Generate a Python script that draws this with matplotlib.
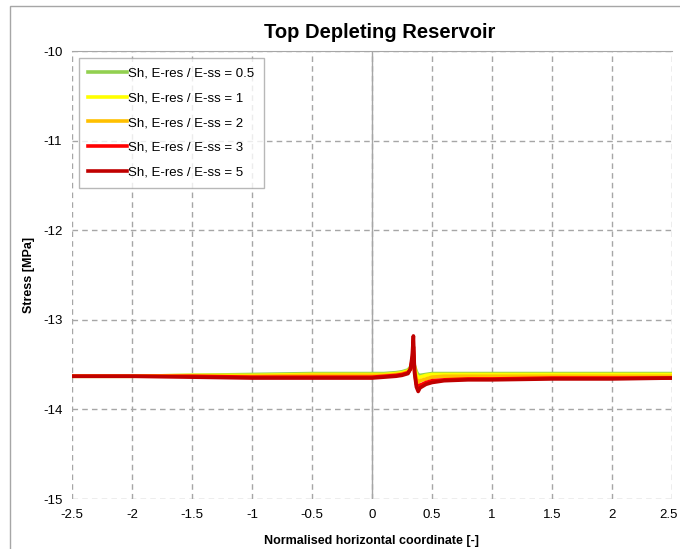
import matplotlib
matplotlib.use("Agg")
import matplotlib.pyplot as plt
from matplotlib.transforms import ScaledTranslation

plt.rcParams["font.family"] = ["Liberation Sans", "DejaVu Sans"]

# --- DATA --- #
x = [-2.5, -2.0, -1.5, -1.0, -0.5, 0.0, 0.1, 0.2, 0.25, 0.3, 0.32, 0.335, 0.345,
     0.355, 0.37, 0.385, 0.4, 0.45, 0.5, 0.6, 0.8, 1.0, 1.5, 2.0, 2.5]

sh_05 = [-13.63, -13.63, -13.62, -13.61, -13.60, -13.60, -13.60, -13.59, -13.58, -13.56,
         -13.53, -13.50, -13.47, -13.52, -13.58, -13.62, -13.62, -13.61, -13.60, -13.60,
         -13.60, -13.60, -13.60, -13.60, -13.60]
sh_1 = [-13.63, -13.63, -13.62, -13.62, -13.61, -13.61, -13.61, -13.60, -13.59, -13.57,
        -13.54, -13.50, -13.45, -13.54, -13.61, -13.65, -13.64, -13.62, -13.61, -13.61,
        -13.61, -13.61, -13.61, -13.61, -13.61]
sh_2 = [-13.63, -13.63, -13.63, -13.63, -13.62, -13.62, -13.62, -13.61, -13.60, -13.58,
        -13.55, -13.48, -13.40, -13.56, -13.66, -13.70, -13.68, -13.66, -13.64, -13.63,
        -13.63, -13.63, -13.63, -13.63, -13.63]
sh_3 = [-13.63, -13.63, -13.63, -13.64, -13.64, -13.64, -13.63, -13.62, -13.61, -13.59,
        -13.55, -13.45, -13.30, -13.58, -13.72, -13.76, -13.73, -13.70, -13.68, -13.67,
        -13.66, -13.66, -13.65, -13.65, -13.65]
sh_5 = [-13.63, -13.63, -13.64, -13.65, -13.65, -13.65, -13.64, -13.63, -13.62, -13.60,
        -13.55, -13.40, -13.18, -13.60, -13.75, -13.80, -13.76, -13.72, -13.70, -13.68,
        -13.67, -13.67, -13.66, -13.66, -13.65]

labels = ["Sh, E-res / E-ss = 0.5", "Sh, E-res / E-ss = 1", "Sh, E-res / E-ss = 2",
          "Sh, E-res / E-ss = 3", "Sh, E-res / E-ss = 5"]
colours = ["#92D050", "#FFFF00", "#FFC000", "#FF0000", "#C00000"]

x_ticks = [-2.5, -2, -1.5, -1, -0.5, 0, 0.5, 1, 1.5, 2, 2.5]
x_tick_labels = ["-2.5", "-2", "-1.5", "-1", "-0.5", "0", "0.5", "1", "1.5", "2", "2.5"]
y_ticks = [-15, -14, -13, -12, -11, -10]

# --- PLOT --- #
fig = plt.figure(figsize=(6.8, 5.49), dpi=100)
ax = fig.add_axes([72 / 680, 1 - 499 / 549, 600 / 680, 448 / 549])

for ys, lab, col in zip([sh_05, sh_1, sh_2, sh_3, sh_5], labels, colours):
    ax.plot(x, ys, color=col, linewidth=2.6, label=lab, solid_joinstyle="round")

ax.set_xlim(-2.5, 2.5)
ax.set_ylim(-15, -10)
ax.set_xticks(x_ticks)
ax.set_xticklabels(x_tick_labels)
ax.set_yticks(y_ticks)
ax.set_yticklabels([str(v) for v in y_ticks])
ax.tick_params(length=0, labelsize=9.5, pad=7)

# the last x label sits on the picture edge, nudge it in a little
last = ax.get_xticklabels()[-1]
last.set_transform(last.get_transform() + ScaledTranslation(-4 / 100, 0, fig.dpi_scale_trans))

ax.grid(True, color="#A6A6A6", linestyle=(0, (4, 3)), linewidth=1.0)
ax.set_axisbelow(True)
for s in ["left", "right", "bottom"]:
    ax.spines[s].set_visible(False)
ax.spines["top"].set_color("#A6A6A6")
ax.axvline(0, color="#A6A6A6", linewidth=1.0, zorder=1)

ax.set_xlabel("Normalised horizontal coordinate [-]", fontsize=9, fontweight="bold", labelpad=10)
ax.set_ylabel("Stress [MPa]", fontsize=9, fontweight="bold", labelpad=6)
fig.text(0.558, 1 - 32 / 549, "Top Depleting Reservoir", ha="center", va="center",
         fontsize=14.5, fontweight="bold")

leg = ax.legend(loc="upper left", bbox_to_anchor=(7 / 600, 1 - 7 / 448), borderaxespad=0,
                fontsize=9.5, frameon=True, fancybox=False, handlelength=2.9,
                handletextpad=0.15, labelspacing=0.95, borderpad=0.7)
leg.get_frame().set_edgecolor("#A6A6A6")
leg.get_frame().set_linewidth(1.0)

fig.add_artist(plt.Rectangle((10 / 680, -0.05), 1.0, 1.05 - 6 / 549, transform=fig.transFigure,
                             fill=False, edgecolor="#A6A6A6", linewidth=1.0))

fig.savefig("out.png", dpi=100)
